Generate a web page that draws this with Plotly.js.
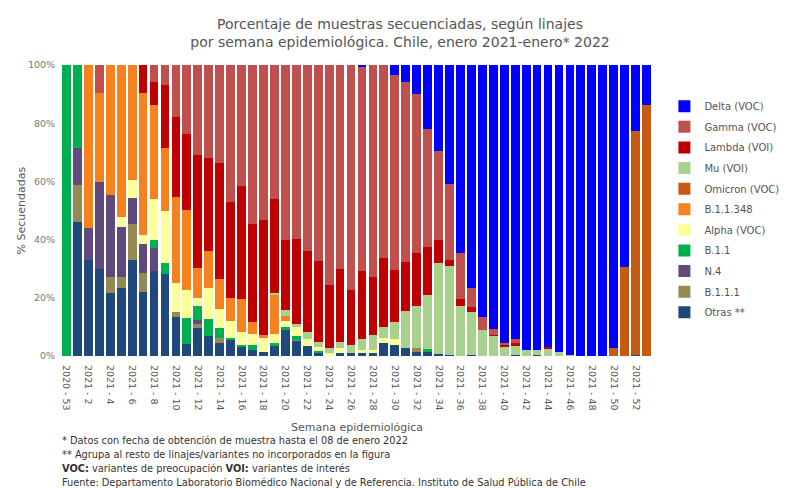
<!DOCTYPE html>
<html><head><meta charset="utf-8">
<script src="https://cdn.plot.ly/plotly-3.0.1.min.js"></script>
<style>body{margin:0;background:#fff}#c{width:800px;height:488px}</style>
</head><body><div id="c"></div>
<script>
var weeks = ["2020 - 53","2021 - 1","2021 - 2","2021 - 3","2021 - 4","2021 - 5","2021 - 6","2021 - 7","2021 - 8","2021 - 9",
"2021 - 10","2021 - 11","2021 - 12","2021 - 13","2021 - 14","2021 - 15","2021 - 16","2021 - 17","2021 - 18","2021 - 19",
"2021 - 20","2021 - 21","2021 - 22","2021 - 23","2021 - 24","2021 - 25","2021 - 26","2021 - 27","2021 - 28","2021 - 29",
"2021 - 30","2021 - 31","2021 - 32","2021 - 33","2021 - 34","2021 - 35","2021 - 36","2021 - 37","2021 - 38","2021 - 39",
"2021 - 40","2021 - 41","2021 - 42","2021 - 43","2021 - 44","2021 - 45","2021 - 46","2021 - 47","2021 - 48","2021 - 49",
"2021 - 50","2021 - 51","2021 - 52","2022 - 1"];

var otras   = [0,45.9,33.0,29.8,21.8,23.5,33.0,22.1,29.2,28.1, 13.3,4.1,9.7,6.9,4.6,5.5,3.0,2.2,1.4,3.6, 8.8,5.0,3.5,0.9,0,1.0,0.9,1.1,1.0,4.6, 3.7,2.6,1.4,1.3,0.7,0.3,0,0.3,0,0, 0,0.3,0,0.3,0,0,0,0,0,0, 0,0,0.3,0];
var b111    = [0,12.9,0,0,5.5,3.5,12.2,6.3,0,0, 1.7,0,1.3,0,1.7,0,0,0,0,0, 0,0.6,0,0,0,0,0,0,0,0, 0,0,1.2,0,0,0,0,0,0,0, 0,0,0,0,0,0,0,0,0,0, 0,0,0,0];
var n4      = [0,12.8,11.1,29.9,28.0,17.4,9.0,10.1,8.0,0, 0,0,1.4,0,0,0,0,0,0,0, 0,0,0,0,0,0,0,0,0,0, 0,0,0,0,0,0,0,0,0,0, 0,0,0,0,0,0,0,0,0,0, 0,0,0,0];
var b11     = [100,28.4,0,0,0,0,0,0,2.6,3.8, 0,9.0,4.9,5.8,3.2,0.6,0.8,1.5,0,0.8, 1.3,1.4,0,0.8,0,0,0,0,0,0, 0,0,0,1.1,0,0,0,0,0,0, 0,0,0,0,0,0,0,0,0,0, 0,0,0,0];
var alpha   = [0,0,0,0,0,3.5,6.3,3.1,14.0,17.8, 10.2,9.7,2.7,10.8,6.6,6.0,4.3,3.9,4.7,3.3, 1.9,3.0,2.2,1.5,1.2,1.6,0,0.9,1.1,1.6, 2.0,0,0,0,0,0,0,0,0,0, 0,0,0,0,0,0,0,0,0,0, 0,0,0,0];
var b11348  = [0,0,55.9,30.6,44.7,52.1,39.5,48.7,32.6,21.8, 29.3,27.5,10.3,12.7,10.3,7.8,11.5,4.2,1.1,13.1, 1.7,0,0,0,0,0,0,0,0,0, 0,0,0,0,0,0,0,0,0,0, 0,0,0,0,0,0,0,0,0,0, 0,0,0,0];
var omicron = [0,0,0,0,0,0,0,0,0,0, 0,0,0,0,0,0,0,0,0,0, 0,0,0,0,0,0,0,0,0,0, 0,0,0,0,0,0,0,0,0,0, 0,0,0,0,0,0,0,0,0,0, 2.6,30.7,77.0,86.3];
var mu      = [0,0,0,0,0,0,0,0,0,0, 0,0,0,0,0,0,0,0,0,0.7, 2.1,1.0,2.6,1.7,1.7,2.3,3.0,4.0,5.0,3.6, 6.0,12.8,14.6,18.5,31.2,30.8,17.3,14.7,8.9,6.8, 3.0,3.2,2.1,1.7,2.3,1.4,0.3,0,0,0, 0,0,0,0];
var lambda  = [0,0,0,0,0,0,0,9.7,7.8,21.5, 27.5,26.1,38.7,31.7,40.0,32.9,38.7,33.6,39.5,32.3, 24.1,29.3,27.8,27.7,21.4,25.0,18.9,23.1,20.0,23.8, 18.0,17.0,18.3,16.4,7.8,1.9,2.3,1.7,0.2,0.5, 0.8,0.8,0,0,0.7,0,0,0,0,0, 0,0,0,0];
var gamma   = [0,0,0,9.7,0,0,0,0,5.8,7.0, 18.0,23.6,31.0,32.1,33.6,47.2,41.7,54.6,53.3,46.2, 60.1,59.7,63.9,67.4,75.7,70.1,77.2,70.3,72.9,66.4, 66.9,61.9,54.4,40.6,30.9,26.0,15.7,6.6,4.2,1.9, 0.8,1.5,0,0,0,0,0,0,0,0, 0,0,0,0];
var delta   = [0,0,0,0,0,0,0,0,0,0, 0,0,0,0,0,0,0,0,0,0, 0,0,0,0,0,0,0,0.6,0,0, 3.4,5.7,10.1,22.1,29.4,41.0,64.7,76.7,86.7,90.8, 95.4,94.2,97.9,98.0,97.0,98.6,99.7,100,100,100, 97.4,69.3,22.7,13.7];

var series = [
  ["Otras **", otras, "#1F497D"],
  ["B.1.1.1", b111, "#948A54"],
  ["N.4", n4, "#604A7B"],
  ["B.1.1", b11, "#00B050"],
  ["Alpha (VOC)", alpha, "#FFFF99"],
  ["B.1.1.348", b11348, "#F5821F"],
  ["Omicron (VOC)", omicron, "#C55A11"],
  ["Mu (VOI)", mu, "#A9D18E"],
  ["Lambda (VOI)", lambda, "#C00000"],
  ["Gamma (VOC)", gamma, "#C0504D"],
  ["Delta (VOC)", delta, "#0000FF"]
];

var F = "DejaVu Sans, Verdana, sans-serif";
var traces = series.map(function(s, k){
  return {type:"bar", name:s[0], legendgroup:"g"+k, legendrank:(series.length-k)*10,
          x:weeks, y:s[1], marker:{color:s[2], line:{width:0}},
          hovertemplate:"%{x}: %{y}%<extra>"+s[0]+"</extra>"};
});

var layout = {
  width:800, height:488,
  margin:{l:61, r:148, t:65, b:132},
  paper_bgcolor:"#fff", plot_bgcolor:"#fff",
  barmode:"stack", bargap:0.2,
  font:{family:F, size:10, color:"#555"},
  title:{text:"Porcentaje de muestras secuenciadas, según linajes<br>por semana epidemiológica. Chile, enero 2021-enero* 2022",
         font:{family:F, size:14, color:"#555"}, x:0.5, xanchor:"center", y:0.94, yanchor:"top"},
  xaxis:{type:"category", tickangle:90, dtick:2, showgrid:false, zeroline:false, showline:false,
         ticks:"outside", ticklen:6, tickcolor:"rgba(0,0,0,0)",
         tickfont:{family:F, size:9.5, color:"#555"}, automargin:false},
  yaxis:{range:[0,100], dtick:20, ticksuffix:"%", showgrid:false, zeroline:false, showline:false,
         ticks:"outside", ticklen:3, tickcolor:"rgba(0,0,0,0)",
         tickfont:{family:F, size:9.5, color:"#777"}, automargin:false},
  legend:{x:1.021, xanchor:"left", y:0.908, yanchor:"top", traceorder:"grouped", tracegroupgap:1.6,
          font:{family:F, size:10, color:"#555"}, bgcolor:"rgba(0,0,0,0)"},
  annotations:[
    {text:"% Secuendadas", xref:"paper", yref:"paper", x:-0.066, xanchor:"center", y:0.5, yanchor:"middle", textangle:-90, showarrow:false,
     font:{family:F, size:11, color:"#555"}},
    {text:"Semana epidemiológica", xref:"paper", yref:"paper", x:0.5, y:-0.247, yanchor:"middle", showarrow:false,
     font:{family:F, size:11, color:"#555"}},
    {text:"* Datos con fecha de obtención de muestra hasta el 08 de enero 2022", xref:"paper", yref:"paper", x:-0.002, xanchor:"left", y:-0.292, yanchor:"middle", showarrow:false, font:{family:F, size:9.8, color:"#333"}},
    {text:"** Agrupa al resto de linajes/variantes no incorporados en la figura", xref:"paper", yref:"paper", x:-0.002, xanchor:"left", y:-0.340, yanchor:"middle", showarrow:false, font:{family:F, size:9.8, color:"#333"}},
    {text:"<b>VOC:</b> variantes de preocupación <b>VOI:</b> variantes de interés", xref:"paper", yref:"paper", x:-0.002, xanchor:"left", y:-0.388, yanchor:"middle", showarrow:false, font:{family:F, size:9.8, color:"#333"}},
    {text:"Fuente: Departamento Laboratorio Biomédico Nacional y de Referencia. Instituto de Salud Pública de Chile", xref:"paper", yref:"paper", x:-0.002, xanchor:"left", y:-0.433, yanchor:"middle", showarrow:false, font:{family:F, size:9.8, color:"#333"}}
  ]
};
Plotly.newPlot("c", traces, layout, {displayModeBar:false, staticPlot:true});
</script></body></html>
